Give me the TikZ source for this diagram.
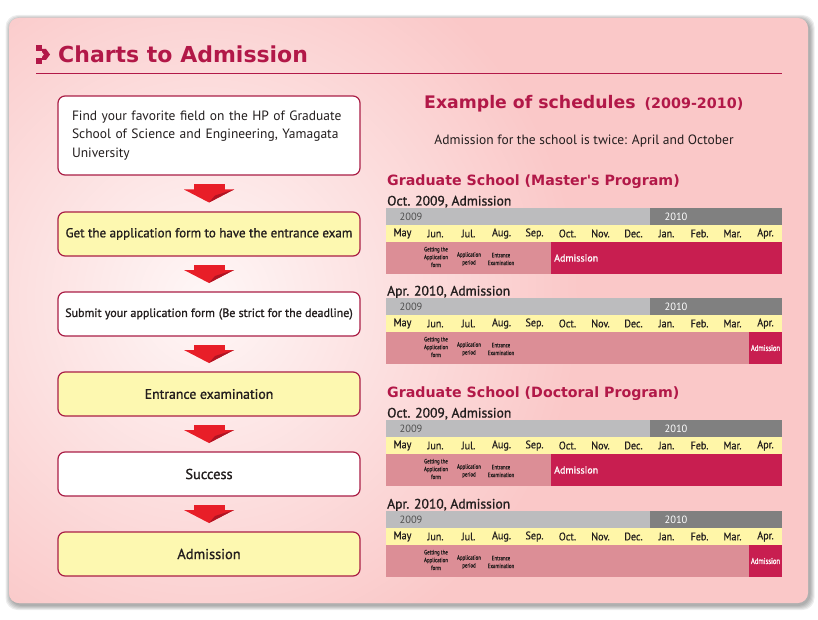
\documentclass[tikz,border=0pt]{standalone}
\usepackage{fontspec}
\usetikzlibrary{calc}
\setmainfont{PT Sans}
\newfontfamily\bodyf{PT Sans}
\newfontfamily\boldbodyf[FakeBold=1.2]{PT Sans}
\newfontfamily\monthf[FakeStretch=0.92,FakeBold=0.6]{PT Sans}
\newfontfamily\condf[FakeStretch=0.78,FakeBold=0.6]{PT Sans}
\newfontfamily\headf{DejaVu Sans}
\definecolor{crim}{RGB}{178,24,72}
\definecolor{boxborder}{RGB}{170,30,70}
\definecolor{yellowbox}{RGB}{253,248,176}
\definecolor{arrowred}{RGB}{232,30,40}
\definecolor{arrowdark}{RGB}{175,20,35}
\definecolor{yrlight}{RGB}{188,188,190}
\definecolor{yrdark}{RGB}{128,128,128}
\definecolor{yrtxt}{RGB}{80,80,80}
\definecolor{monthc}{RGB}{255,246,168}
\definecolor{evpink}{RGB}{220,142,150}
\definecolor{evcrim}{RGB}{200,30,80}
\definecolor{bgpink}{RGB}{250,200,200}
\definecolor{txt}{RGB}{35,30,30}
\tikzset{
  flowbox/.style={draw=boxborder, line width=1.2pt, rounded corners=7pt,
    minimum width=302pt, minimum height=44pt, inner sep=0pt, text=txt,
    font=\boldbodyf\fontsize{14.4}{18.5}\selectfont},
  whitebox/.style={flowbox, fill=white},
  yelbox/.style={flowbox, fill=yellowbox},
  yrtext/.style={inner sep=0pt, font=\bodyf\fontsize{10.5}{12}\selectfont},
  monthtext/.style={inner sep=0pt, text=txt, font=\monthf\fontsize{11}{12}\selectfont},
  notetext/.style={inner sep=0pt, text=txt, align=center, font=\condf\fontsize{6.3}{7.8}\selectfont},
  admtext/.style={inner sep=0pt, text=white, font=\boldbodyf\fontsize{10}{12}\selectfont},
  charthead/.style={inner sep=0pt, anchor=base west, text=txt, font=\boldbodyf\fontsize{13.6}{15}\selectfont},
  sechead/.style={inner sep=0pt, anchor=base west, text=crim, font=\headf\bfseries\fontsize{14.2}{16}\selectfont},
  pics/redarrow/.style={code={
    \fill[arrowred] (-15.5,0) rectangle (15.5,5.5);
    \fill[arrowred] (-25,5) -- (25,5) -- (0,18) -- cycle;
    \fill[arrowdark] (0,18) -- (25,5) -- (6,11) -- cycle;
  }}
}
\newcommand\chart[3]{%
  \begin{scope}[shift={(0,#1)}]
    \fill[yrlight] (386,0) rectangle (650,17);
    \fill[yrdark] (650,0) rectangle (782,17);
    \node[yrtext, text=yrtxt] (#2-y09) at (411,8.5) {2009};
    \node[yrtext, text=white] (#2-y10) at (676,8.5) {2010};
    \fill[monthc] (386,17) rectangle (782,34);
    \foreach \m [count=\i from 0] in {May,Jun.,Jul.,Aug.,Sep.,Oct.,Nov.,Dec.,Jan.,Feb.,Mar.,Apr.}
      \node[monthtext] (#2-m\i) at (402.5+33*\i,25.5) {\m};
    \fill[evpink] (386,34) rectangle (782,66);
    \ifnum#3=1
      \fill[evcrim] (551,34) rectangle (782,66);
      \node[admtext, anchor=west] (#2-adm) at (554,50) {Admission};
    \else
      \fill[evcrim] (749,34) rectangle (782,66);
      \node[admtext, font=\condf\fontsize{8.5}{10}\selectfont] (#2-adm) at (765.5,50) {Admission};
    \fi
    \node[notetext] (#2-n1) at (436,49) {Getting the\\Application\\form};
    \node[notetext] (#2-n2) at (469,51) {Application\\period};
    \node[notetext] (#2-n3) at (501,51) {Entrance\\Examination};
  \end{scope}}
\begin{document}
\begin{tikzpicture}[x=1pt,y=-1pt]
\useasboundingbox (0,0) rectangle (818,620);
\fill[white] (0,0) rectangle (818,620);
% shadow
\foreach \s in {1,2,3,4,5}
  \fill[black, opacity=0.07, rounded corners=12pt] (9-\s+1.5,18-\s+2) rectangle (808+\s+1.5,603+\s+2);
% panel
\begin{scope}
  \clip[rounded corners=10pt] (9,18) rectangle (808,603);
  \fill[bgpink] (0,0) rectangle (818,620);
  \shade[inner color=bgpink!15!white, outer color=bgpink] (-170,-80) rectangle (580,680);
\end{scope}
% title
\fill[crim] (36,45) rectangle (42,51);
\fill[crim] (36,58) rectangle (42,64);
\fill[crim] (42,49) -- (46,49) -- (50,54.5) -- (46,60) -- (42,60) -- (42,57) -- (44,54.5) -- (42,52) -- cycle;
\node[inner sep=0pt, anchor=base west, text=crim, font=\headf\bfseries\fontsize{22}{26}\selectfont] (title) at (58,63) {Charts to Admission};
\draw[crim, line width=1pt] (36,74) -- (782,74);
% flow boxes
\node[whitebox, minimum height=79pt, text width=280pt, inner xsep=11pt, align=left,
  font=\bodyf\fontsize{13.5}{18.5}\selectfont] (b1) at (209,135.5)
  {\hspace*{3pt}Find your favorite field on the HP of Graduate\\\hspace*{3pt}School of Science and Engineering, Yamagata\\\hspace*{3pt}University};
\node[yelbox, font=\boldbodyf\fontsize{13}{18}\selectfont] (b2) at (209,234) {Get the application form to have the entrance exam};
\node[whitebox, font=\boldbodyf\fontsize{12}{18}\selectfont] (b3) at (209,314) {Submit your application form\hspace{4pt}(Be strict for the deadline)};
\node[yelbox, font=\boldbodyf\fontsize{13.8}{18}\selectfont] (b4) at (209,394) {Entrance examination};
\node[whitebox] (b5) at (209,474) {Success};
\node[yelbox] (b6) at (209,554) {Admission};
\foreach \a/\b in {b1/b2,b2/b3,b3/b4,b4/b5,b5/b6}
  \pic at ($(\a.south)!0.5!(\b.north)+(0,-9)$) {redarrow};
% right side
\node[inner sep=0pt, anchor=base west, text=crim, font=\headf\bfseries\fontsize{17.3}{20}\selectfont] (exhead) at (424,109)
  {Example of schedules\hspace{3pt} {\fontsize{14.3}{16}\selectfont(2009-2010)}};
\node[inner sep=0pt, text=txt, font=\bodyf\fontsize{13.5}{15}\selectfont] (twice) at (584,141)
  {Admission for the school is twice: April and October};
\node[sechead] (master) at (387,185.5) {Graduate School (Master's Program)};
\node[charthead] (mh1) at (387,205.5) {Oct. 2009, Admission};
\chart{208}{ma}{1}
\node[charthead] (mh2) at (387,295.5) {Apr. 2010, Admission};
\chart{298}{mb}{0}
\node[sechead] (doctor) at (387,397) {Graduate School (Doctoral Program)};
\node[charthead] (dh1) at (387,417.5) {Oct. 2009, Admission};
\chart{420}{da}{1}
\node[charthead] (dh2) at (387,508.5) {Apr. 2010, Admission};
\chart{511}{db}{0}
\end{tikzpicture}
\end{document}
